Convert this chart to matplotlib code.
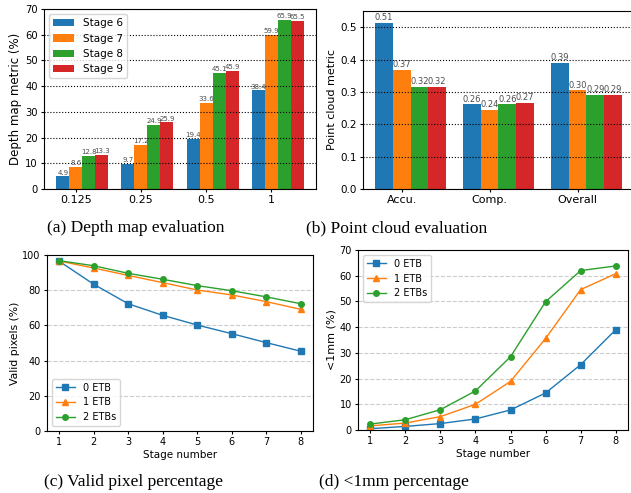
import numpy as np
import matplotlib
matplotlib.use("Agg")
import matplotlib.pyplot as plt

# (a) depth map evaluation
depth_thresholds = ["0.125", "0.25", "0.5", "1"]
depth_stage6 = [4.9, 9.7, 19.4, 38.4]
depth_stage7 = [8.6, 17.2, 33.6, 59.9]
depth_stage8 = [12.8, 24.9, 45.1, 65.9]
depth_stage9 = [13.3, 25.9, 45.9, 65.5]

# (b) point cloud evaluation
cloud_metrics = ["Accu.", "Comp.", "Overall"]
cloud_stage6 = [0.513, 0.262, 0.389]
cloud_stage7 = [0.368, 0.244, 0.305]
cloud_stage8 = [0.315, 0.262, 0.290]
cloud_stage9 = [0.316, 0.266, 0.290]

stage_names = ["Stage 6", "Stage 7", "Stage 8", "Stage 9"]

# (c) and (d) per-stage curves
stages = [1, 2, 3, 4, 5, 6, 7, 8]
valid_0etb = [96.5, 83.4, 72.3, 65.7, 60.2, 55.3, 50.2, 45.3]
valid_1etb = [96.6, 92.6, 88.4, 84.3, 80.1, 77.3, 73.5, 69.1]
valid_2etb = [96.8, 93.9, 89.6, 86.2, 82.6, 79.7, 76.2, 72.3]
mm_0etb = [0.5, 1.4, 2.5, 4.3, 7.8, 14.4, 25.4, 39.0]
mm_1etb = [1.6, 2.7, 5.2, 10.0, 18.9, 35.6, 54.6, 60.8]
mm_2etb = [2.3, 4.0, 7.9, 15.2, 28.5, 49.9, 62.0, 63.8]
curve_names = ["0 ETB", "1 ETB", "2 ETBs"]

colors = ["#1f77b4", "#ff7f0e", "#2ca02c", "#d62728"]
W, H = 631, 493

plt.rcParams["xtick.major.size"] = 2.5
plt.rcParams["ytick.major.size"] = 2.5
plt.rcParams["xtick.major.pad"] = 2
plt.rcParams["ytick.major.pad"] = 2
plt.rcParams["axes.labelpad"] = 2


def box(left, top, right, bottom):
    return [left / W, 1 - bottom / H, (right - left) / W, (bottom - top) / H]


def grouped_bars(ax, labels, series, fmt, label_size):
    x = np.arange(len(labels))
    w = 0.2
    for i, vals in enumerate(series):
        bars = ax.bar(x + (i - 1) * w, vals, w, color=colors[i], label=stage_names[i])
        ax.bar_label(bars, labels=[fmt % v for v in vals], fontsize=label_size,
                     color="0.3", padding=0.5)
    ax.set_xticks(x)
    ax.set_xticklabels(labels)
    ax.yaxis.grid(True, linestyle=":", color="k", linewidth=0.8)


fig = plt.figure(figsize=(6.31, 4.93), dpi=100)

ax1 = fig.add_axes(box(44, 9, 316, 189))
grouped_bars(ax1, depth_thresholds, [depth_stage6, depth_stage7, depth_stage8, depth_stage9], "%.1f", 5)
ax1.set_ylim(0, 70)
ax1.set_ylabel("Depth map metric (%)", fontsize=8.5)
ax1.tick_params(axis="x", labelsize=8)
ax1.tick_params(axis="y", labelsize=7.2)
ax1.legend(loc="upper left", fontsize=7.5)

ax2 = fig.add_axes(box(363, 11, 634, 189))
grouped_bars(ax2, cloud_metrics, [cloud_stage6, cloud_stage7, cloud_stage8, cloud_stage9], "%.2f", 6)
ax2.set_ylim(0, 0.55)
ax2.set_ylabel("Point cloud metric", fontsize=8)
ax2.tick_params(axis="x", labelsize=8)
ax2.tick_params(axis="y", labelsize=7.5)


def curves(ax, series):
    for vals, name, c, m in zip(series, curve_names, colors, ["s", "^", "o"]):
        ax.plot(stages, vals, marker=m, color=c, label=name, markersize=4, linewidth=1)
    ax.yaxis.grid(True, linestyle="--", color="0.8", linewidth=0.8)
    ax.set_xticks(stages)
    ax.set_xlabel("Stage number", fontsize=7.5)
    ax.tick_params(labelsize=7)


ax3 = fig.add_axes(box(47, 255, 313, 431))
curves(ax3, [valid_0etb, valid_1etb, valid_2etb])
ax3.set_ylim(0, 100)
ax3.set_ylabel("Valid pixels (%)", fontsize=7.8)
ax3.legend(loc="lower left", fontsize=7)

ax4 = fig.add_axes(box(358, 250, 628, 430))
curves(ax4, [mm_0etb, mm_1etb, mm_2etb])
ax4.set_ylim(0, 70)
ax4.set_ylabel("<1mm (%)", fontsize=8)
ax4.legend(loc="upper left", fontsize=7)

cap = dict(ha="center", va="center", fontsize=12.5, family="Liberation Serif")
fig.text(136 / W, 1 - 228 / H, "(a) Depth map evaluation", **cap)
fig.text(397 / W, 1 - 228 / H, "(b) Point cloud evaluation", **cap)
fig.text(133 / W, 1 - 482 / H, "(c) Valid pixel percentage", **cap)
fig.text(394 / W, 1 - 482 / H, "(d) <1mm percentage", **cap)

fig.savefig("out.png", dpi=100)
